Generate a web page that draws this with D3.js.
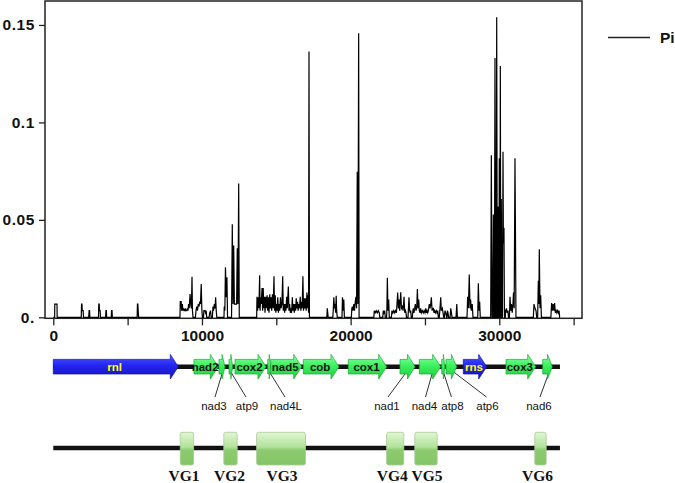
<!DOCTYPE html>
<html><head><meta charset="utf-8">
<script src="https://cdn.jsdelivr.net/npm/d3@7"></script>
<style>body{margin:0;background:#fff}svg{display:block}</style>
</head><body>
<svg id="c" width="675" height="483"></svg>
<script>
// ---- Pi sliding-window series: [position (bp), Pi] ----
const piSeries = [
[0,0],[90,0],[100,0.0068],[250,0.0068],[260,0],
[1880,0],[1900,0.0068],[1930,0.0068],[1950,0.0034],[2010,0.0034],[2030,0],
[2380,0],[2410,0.0034],[2440,0.0034],[2460,0],
[3040,0],[3060,0.0068],[3090,0.0068],[3110,0.0034],[3150,0.0034],[3170,0],
[3520,0],[3540,0.0034],[3570,0.0034],[3590,0],
[3900,0],[3920,0.0034],[3950,0.0034],[3970,0],
[5640,0],[5660,0.0068],[5690,0.0068],[5710,0.0034],[5740,0],
[8520,0],[8540,0.008],[8600,0.008],[8630,0.0034],[8680,0.0068],[8720,0.0034],[8760,0.0046],[8800,0.0034],[8850,0.0034],[8880,0.0046],[8920,0.0034],[8980,0.0034],[9020,0.0046],[9060,0.0034],[9100,0.0068],[9140,0.0046],[9200,0.012],[9240,0.0068],[9290,0.0046],[9330,0.0208],[9360,0.0034],[9400,0],
[9560,0],[9600,0.0034],[9650,0.0055],[9700,0.0034],[9750,0.0068],[9800,0.0055],[9850,0.008],[9900,0.0068],[9950,0.0171],[9990,0.0046],[10030,0],
[10100,0],[10130,0.0034],[10200,0.0034],[10240,0.0023],[10280,0.0034],[10320,0],
[10480,0],[10520,0.0023],[10580,0.0034],[10620,0],
[10700,0],[10740,0.0055],[10780,0.0034],[10830,0.0068],[10880,0.0046],[10920,0.0103],[10960,0.0034],[11000,0],
[11480,0],[11500,0.0055],[11540,0.0034],[11580,0.0257],[11630,0.0103],[11680,0.0205],[11720,0],
[11990,0],[12040,0.0477],[12090,0.0068],[12135,0.0368],[12180,0.0068],[12250,0.0068],[12330,0.0068],[12375,0.0354],[12420,0.0068],[12470,0.0686],[12510,0],
[13680,0],[13700,0.0105],[13740,0.0034],[13790,0.0103],[13830,0.0046],[13880,0.0216],[13910,0.0034],[13950,0.0103],[13990,0.0068],[14040,0.015],[14080,0.0034],[14120,0.015],[14160,0.0046],[14200,0.0105],[14240,0.0023],[14290,0.0105],[14330,0.0046],[14380,0.0113],[14420,0.0034],[14470,0.0103],[14510,0.0023],[14560,0.0118],[14600,0.0046],[14650,0.0103],[14690,0.0034],[14740,0.0118],[14790,0.0046],[14845,0.021],[14880,0.0034],[14930,0.0113],[14970,0.0023],[15010,0.0068],[15050,0.0034],[15100,0.0103],[15140,0.0023],[15190,0.0068],[15230,0.0034],[15280,0.0103],[15320,0.0046],[15380,0.0068],[15430,0.021],[15470,0.0034],[15520,0.0068],[15560,0.0023],[15600,0.0068],[15650,0.0034],[15700,0.0105],[15740,0.0046],[15810,0.0158],[15850,0.0034],[15900,0.0068],[15940,0.0023],[15990,0.0046],[16030,0.0023],[16080,0.0103],[16120,0.0034],[16170,0.0068],[16210,0.0023],[16260,0.0068],[16300,0.0034],[16340,0.0098],[16380,0.0046],[16430,0.008],[16470,0.0034],[16520,0.0068],[16560,0.0046],[16610,0.0105],[16650,0.0034],[16700,0.008],[16740,0.0046],[16790,0.021],[16830,0.0034],[16880,0.0098],[16920,0.0046],[16970,0.0098],[17010,0.0034],[17060,0.0127],[17100,0.0046],[17140,0.0113],[17170,0.0023],[17200,0.1364],[17230,0],
[18400,0],[18430,0.0046],[18460,0.0023],[18490,0],
[18800,0],[18830,0.0034],[18870,0.0103],[18910,0.0046],[18950,0.0068],[18990,0.0023],[19030,0.011],[19060,0.0034],[19100,0],
[19420,0],[19450,0.0103],[19500,0.0034],[19540,0.0091],[19580,0],
[20050,0],[20080,0.0046],[20120,0.0055],[20160,0.0034],[20210,0.0068],[20260,0.0034],[20310,0.008],[20360,0.0105],[20400,0.0046],[20445,0.0747],[20490,0.0068],[20540,0.1458],[20570,0],
[21560,0],[21590,0.0034],[21650,0.0023],[21720,0.0034],[21790,0.0023],[21860,0.0034],[21930,0.0023],[21960,0],
[22160,0],[22200,0.0034],[22240,0.0023],[22290,0.0034],[22330,0],
[22420,0],[22440,0.0046],[22470,0.0203],[22510,0.0034],[22560,0.0091],[22600,0],
[22740,0],[22780,0.0034],[22840,0.0023],[22900,0.0034],[22960,0.0023],[23020,0.0034],[23080,0.0023],[23100,0.0046],[23165,0.0127],[23210,0.0046],[23255,0.0091],[23300,0.0034],[23370,0.0129],[23420,0.0046],[23480,0.0055],[23530,0.0034],[23590,0.0105],[23640,0.0023],[23690,0.0034],[23725,0.0023],[23760,0],
[23860,0],[23890,0.0046],[23925,0.0103],[23970,0.0034],[24010,0.0023],[24040,0.0034],[24080,0],
[24150,0],[24190,0.0034],[24220,0.0046],[24260,0.0023],[24310,0.0046],[24355,0.0068],[24400,0.0034],[24450,0.0055],[24490,0.0145],[24530,0.0046],[24580,0.0091],[24620,0.0034],[24670,0.0023],[24715,0.0046],[24760,0.0023],[24820,0.0034],[24890,0.0023],[24940,0.0034],[25000,0.0023],[25050,0.0046],[25100,0.0023],[25140,0.0034],[25185,0.0023],[25230,0.0034],[25290,0.0068],[25340,0.0046],[25390,0.0068],[25430,0.0103],[25480,0.0034],[25520,0.0046],[25565,0.0046],[25610,0.0023],[25650,0.0034],[25700,0.0023],[25760,0.0034],[25810,0.0023],[25860,0.0034],[25900,0],
[25960,0],[26000,0.0034],[26060,0.0103],[26100,0.0034],[26170,0.0046],[26220,0.0023],[26260,0],
[26300,0],[26350,0.0034],[26400,0.0023],[26460,0],
[26480,0],[26510,0.0034],[26550,0.0023],[26590,0],
[26690,0],[26735,0.0046],[26780,0.0023],[26820,0],
[27090,0],[27140,0.0068],[27180,0],
[27830,0],[27870,0.0105],[27920,0.0046],[27980,0.022],[28030,0.0046],[28070,0.0091],[28120,0.0034],[28180,0.0068],[28230,0],
[28550,0],[28590,0.0175],[28640,0.0034],[28680,0.008],[28720,0],
[29420,0],[29465,0.0831],[29510,0],[29560,0],[29600,0.0528],[29640,0],[29670,0],[29710,0.133],[29750,0],[29790,0],[29825,0.154],[29865,0],[29880,0],[29910,0.0568],[29950,0],[29970,0],[30000,0.0816],[30035,0],[30045,0],[30070,0.129],[30100,0],[30110,0],[30135,0.0607],[30170,0],[30210,0],[30250,0.085],[30275,0.038],[30315,0.046],[30345,0],
[30400,0],[30430,0.0034],[30480,0.0046],[30530,0.0023],[30580,0.0034],[30620,0],
[30680,0],[30720,0.0105],[30770,0.0034],[30820,0.0068],[30870,0.0023],[30920,0.0068],[30955,0.0127],[31000,0.0046],[31055,0.0816],[31090,0.0405],[31120,0],
[32290,0],[32335,0.0068],[32400,0.0046],[32470,0.0034],[32520,0],[32580,0],[32625,0.0188],[32660,0.0068],[32690,0.0349],[32740,0.0046],[32785,0.0113],[32830,0],
[33470,0],[33520,0.0073],[33570,0.0034],[33620,0.0068],[33670,0.0034],[33720,0.0073],[33770,0.0023],[33820,0.0034],[33870,0.0023],[33920,0.0034],[33970,0.0023],[34020,0.0034],[34060,0],[34080,0]
];

// ---- axes ----
const xTickValues = [0,5000,10000,15000,20000,25000,30000,35000];
const xTickLabels = [0,10000,20000,30000];
const yTickValues = [0,0.05,0.1,0.15];
const yTickLabels = ["0.","0.05","0.1","0.15"];
const legendLabel = "Pi";

// ---- gene map ----
const genomeLength = 34080;
const geneNames = ["rnl","nad2","nad3","atp9","cox2","nad4L","nad5","cob","cox1","nad1","nad4","atp8","atp6","rns","cox3","nad6"];
const geneStart = [0,9464,11146,11818,12222,14421,14623,16816,19843,23320,24618,26125,26414,27578,30450,32919];
const geneEnd   = [8408,11098,11549,12067,14307,14623,16708,19217,22426,24329,26058,26347,27134,29152,32448,33564];
const geneType  = ["rRNA","protein","protein","protein","protein","protein","protein","protein","protein","protein","protein","protein","protein","rRNA","protein","protein"];
// genes labelled below the map (callouts): name, attach point, label position
const calloutGenes = ["nad3","atp9","nad4L","nad1","nad4","atp8","atp6","nad6"];
const calloutAttach = [11394,11932,14529,23771,25520,26233,26905,33362];
const calloutLabel  = [10809,13029,15652,22446,24968,26848,29204,32667];

// ---- variable regions ----
const vgNames = ["VG1","VG2","VG3","VG4","VG5","VG6"];
const vgStart = [8540,11468,13675,22419,24316,32387];
const vgEnd   = [9440,12370,16964,23576,25823,33154];
const vgLabelShift = [-3,-1,1,-3,1,-3]; // px, layout only

const svg = d3.select("#c");
const defs = svg.append("defs");
function grad(id, stops){
  const g = defs.append("linearGradient").attr("id",id).attr("x1",0).attr("y1",0).attr("x2",0).attr("y2",1);
  stops.forEach(s=>g.append("stop").attr("offset",s[0]).attr("stop-color",s[1]));
}
grad("gGreen",[["0%","#8dffa6"],["45%","#3cf25e"],["100%","#1fcc3c"]]);
grad("gBlue",[["0%","#4a5cff"],["45%","#2424f2"],["100%","#1414b8"]]);
grad("gVG",[["0%","#e0f7d2"],["45%","#b2e29a"],["55%","#8ccb6e"],["100%","#86c468"]]);

const x = d3.scaleLinear().domain([-558,35563]).range([45,582]);
const y = d3.scaleLinear().domain([0,0.1623]).range([317.3,1]);

// frame
svg.append("rect").attr("x",45).attr("y",1).attr("width",537).attr("height",317.3)
  .attr("fill","none").attr("stroke","#222").attr("stroke-width",1.5);

// line
svg.append("path").datum(piSeries)
  .attr("d", d3.line().x(d=>x(d[0])).y(d=>y(d[1])))
  .attr("fill","none").attr("stroke","#000").attr("stroke-width",1.2);

// x axis
const gx = svg.append("g").attr("transform","translate(0,318.3)")
  .call(d3.axisBottom(x).tickValues(xTickValues).tickSize(7).tickSizeOuter(0)
    .tickFormat(d=> xTickLabels.includes(d) ? String(d) : ""));
gx.select(".domain").remove();
gx.selectAll(".tick line").attr("stroke","#222").attr("stroke-width",1.3);
gx.selectAll(".tick text").attr("font-family","'Liberation Sans', Arial, sans-serif")
  .attr("font-weight","bold").attr("font-size",15.5).attr("fill","#111").attr("y",12);

// y axis
const gy = svg.append("g").attr("transform","translate(45,0)")
  .call(d3.axisLeft(y).tickValues(yTickValues).tickSize(6).tickSizeOuter(0)
    .tickFormat((d,i)=>yTickLabels[i]));
gy.select(".domain").remove();
gy.selectAll(".tick line").attr("stroke","#222").attr("stroke-width",1.3);
gy.selectAll(".tick text").attr("font-family","'Liberation Sans', Arial, sans-serif")
  .attr("font-weight","bold").attr("font-size",15.5).attr("fill","#111").attr("x",-10)
  .attr("letter-spacing",0.6);

// legend
svg.append("line").attr("x1",608).attr("x2",650).attr("y1",37.5).attr("y2",37.5)
  .attr("stroke","#222").attr("stroke-width",1.3);
svg.append("text").attr("x",660).attr("y",43).text(legendLabel)
  .attr("font-family","'Liberation Sans', Arial, sans-serif").attr("font-weight","bold")
  .attr("font-size",15.5).attr("fill","#111");

// gene map
const cy = 366.7, bh = 7.3, hh = 12.3;
svg.append("line").attr("x1",x(0)).attr("x2",x(genomeLength)).attr("y1",cy).attr("y2",cy)
  .attr("stroke","#111").attr("stroke-width",4.5);
const genes = geneNames.map((n,i)=>({name:n,s:geneStart[i],e:geneEnd[i],t:geneType[i]}));
function arrowPath(d){
  const xs = x(d.s), xe = x(d.e);
  const h = Math.min(8, (xe-xs)/2);
  return `M${xs},${cy-bh}L${xe-h},${cy-bh}L${xe-h},${cy-hh}L${xe},${cy}L${xe-h},${cy+hh}L${xe-h},${cy+bh}L${xs},${cy+bh}Z`;
}
calloutGenes.forEach((n,i)=>{
  svg.append("line").attr("x1",x(calloutAttach[i])).attr("y1",cy+5)
    .attr("x2",x(calloutLabel[i])+ (x(calloutAttach[i])>x(calloutLabel[i])?1:-1)).attr("y2",397)
    .attr("stroke","#333").attr("stroke-width",1);
});
svg.selectAll("path.gene").data(genes).enter().append("path").attr("class","gene")
  .attr("d",arrowPath)
  .attr("fill",d=>d.t==="rRNA"?"url(#gBlue)":"url(#gGreen)")
  .attr("stroke",d=>d.t==="rRNA"?"#1010a0":"#17a832").attr("stroke-width",0.7);
svg.selectAll("text.gl").data(genes.filter(d=>!calloutGenes.includes(d.name))).enter()
  .append("text").attr("class","gl")
  .attr("x",d=> d.name==="rnl" ? x(d.s)+(x(d.e)-x(d.s))*0.49 : (x(d.s)+x(d.e))/2 - 1)
  .attr("y",cy+4).attr("text-anchor","middle").text(d=>d.name)
  .attr("font-family","'Liberation Sans', Arial, sans-serif").attr("font-weight","bold")
  .attr("font-size",11.5).attr("fill",d=>d.t==="rRNA"?"#ffff00":"#111");
calloutGenes.forEach((n,i)=>{
  svg.append("text").attr("x",x(calloutLabel[i])).attr("y",410).attr("text-anchor","middle")
    .text(n).attr("font-family","'Liberation Sans', Arial, sans-serif")
    .attr("font-size",11.5).attr("fill","#111");
});

// VG map
const vy = 448;
svg.append("line").attr("x1",x(0)).attr("x2",x(genomeLength)).attr("y1",vy).attr("y2",vy)
  .attr("stroke","#111").attr("stroke-width",4.5);
vgNames.forEach((n,i)=>{
  svg.append("rect").attr("x",x(vgStart[i])).attr("y",432.3)
    .attr("width",x(vgEnd[i])-x(vgStart[i])).attr("height",32.7).attr("rx",2)
    .attr("fill","url(#gVG)").attr("stroke","#a9c99a").attr("stroke-width",0.8);
  svg.append("text").attr("x",(x(vgStart[i])+x(vgEnd[i]))/2 + vgLabelShift[i]).attr("y",481)
    .attr("text-anchor","middle").text(n)
    .attr("font-family","'Liberation Serif', 'Times New Roman', serif").attr("font-weight","bold")
    .attr("font-size",15.5).attr("fill","#111");
});
</script>
</body></html>
